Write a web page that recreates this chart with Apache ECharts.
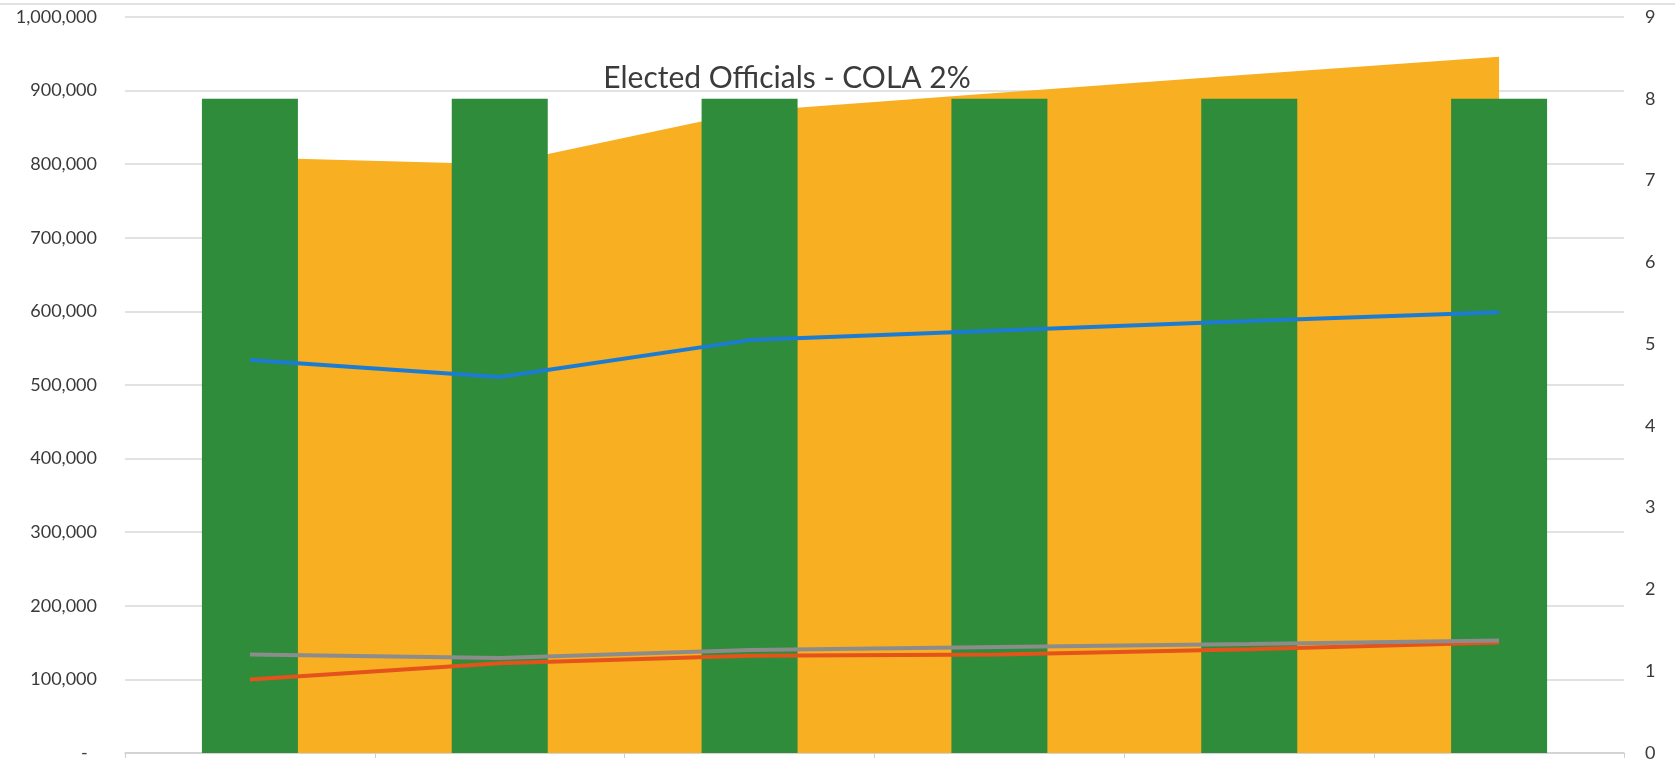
<!DOCTYPE html>
<html>
<head>
<meta charset="utf-8">
<script src="https://cdn.jsdelivr.net/npm/echarts@6/dist/echarts.min.js"></script>
<style>
  html, body { margin: 0; padding: 0; background: #ffffff; }
  #chart { width: 1675px; height: 762px; }
</style>
</head>
<body>
<div id="chart"></div>
<script>
// Six budget years on the category axis
const categories = ['Year 1', 'Year 2', 'Year 3', 'Year 4', 'Year 5', 'Year 6'];

// Number of elected officials (right axis)
const officials = [8, 8, 8, 8, 8, 8];

// Dollar amounts (left axis)
const totalCost = [809000, 800000, 872000, 897000, 922000, 946000];
const salaries  = [534000, 511000, 561000, 574000, 587000, 599000];
const benefits  = [134000, 129000, 140000, 144000, 148000, 153000];
const taxes     = [100000, 122000, 132000, 134000, 141000, 150000];

// Axis ranges
const leftMax = 1000000, leftStep = 100000;
const rightMax = 9, rightStep = 1;

const chart = echarts.init(document.getElementById('chart'), null, { renderer: 'canvas' });

const labelFont = { fontFamily: 'Lato', fontSize: 18, color: '#3a3a3a' };

chart.setOption({
  backgroundColor: '#ffffff',
  animation: false,
  title: {
    text: 'Elected Officials - COLA 2%',
    left: 782,
    top: 73,
    textAlign: 'center',
    textVerticalAlign: 'middle',
    textStyle: { fontFamily: 'Lato', fontSize: 30, fontWeight: 'normal', color: '#3b3b3b' }
  },
  graphic: [{
    type: 'line',
    shape: { x1: 0, y1: 4, x2: 1675, y2: 4 },
    style: { stroke: '#e2e2e2', lineWidth: 2 },
    silent: true
  }],
  grid: { left: 125, right: 51, top: 17, bottom: 5, containLabel: false },
  xAxis: {
    type: 'category',
    data: categories,
    boundaryGap: true,
    axisLine: { show: true, lineStyle: { color: '#cfcfcf', width: 1.5 } },
    axisTick: { show: true, length: 5, lineStyle: { color: '#cfcfcf' } },
    axisLabel: { show: false },
    splitLine: { show: false }
  },
  yAxis: [{
    type: 'value',
    min: 0,
    max: leftMax,
    interval: leftStep,
    position: 'left',
    axisLine: { show: false },
    axisTick: { show: false },
    axisLabel: Object.assign({
      margin: 28,
      formatter: v => v === 0 ? '-  ' : v.toLocaleString('en-US')
    }, labelFont),
    splitLine: { show: true, lineStyle: { color: '#d9d9d9', width: 1.5 } }
  }, {
    type: 'value',
    min: 0,
    max: rightMax,
    interval: rightStep,
    position: 'right',
    axisLine: { show: false },
    axisTick: { show: false },
    axisLabel: Object.assign({ margin: 21, align: 'left' }, labelFont),
    splitLine: { show: false }
  }],
  series: [{
    name: 'Total cost',
    type: 'line',
    yAxisIndex: 0,
    data: totalCost,
    symbol: 'none',
    lineStyle: { width: 0 },
    areaStyle: { color: '#F8AF22', opacity: 1 },
    z: 1
  }, {
    name: 'Officials',
    type: 'bar',
    yAxisIndex: 1,
    data: officials,
    barWidth: 96,
    itemStyle: { color: '#2E8C3A' },
    z: 2
  }, {
    name: 'Salaries',
    type: 'line',
    yAxisIndex: 0,
    data: salaries,
    symbol: 'none',
    lineStyle: { color: '#1C7CD2', width: 4 },
    z: 3
  }, {
    name: 'Benefits',
    type: 'line',
    yAxisIndex: 0,
    data: benefits,
    symbol: 'none',
    lineStyle: { color: '#8C8C8C', width: 4 },
    z: 4
  }, {
    name: 'Taxes',
    type: 'line',
    yAxisIndex: 0,
    data: taxes,
    symbol: 'none',
    lineStyle: { color: '#E4531C', width: 4 },
    z: 3
  }]
});
</script>
</body>
</html>
